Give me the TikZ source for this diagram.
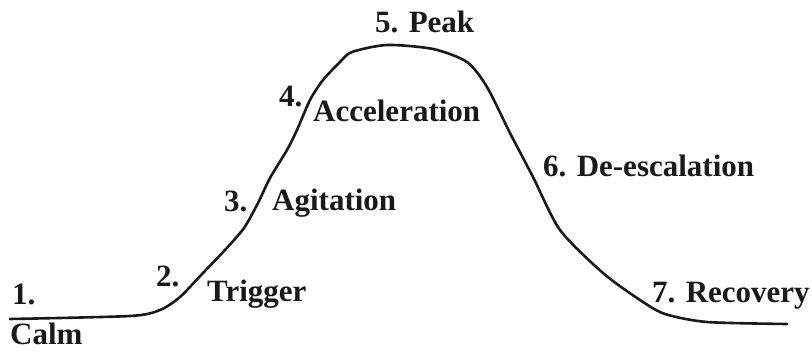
\documentclass[tikz,border=0pt]{standalone}
\usepackage{fontspec}
\setmainfont{Liberation Serif}
\begin{document}
\begin{tikzpicture}[x=1pt,y=-1pt,
  lbl/.style={anchor=base west,inner sep=0pt,font=\fontsize{31}{37}\selectfont\bfseries,text=black!90},
  curve/.style={line width=2.6pt,line cap=round,line join=round,black!90}]
\useasboundingbox[fill=white] (0,0) rectangle (812,352);
\draw[curve] plot[smooth,tension=0.45] coordinates {
 (10,319) (130,316) (160,310) (180,297) (203,273) (225,250) (244,228)
 (258,203) (270,178) (287,150) (297,130) (310,100) (323,80) (340,62)
 (352,52) (387,45) (433,49) (467,62) (487,87) (510,133) (533,177)
 (560,230) (603,273) (640,300) (665,314) (707,322) (787,324)};
\node[lbl] (n1) at (12,305) {1.};
\node[lbl] (calm) at (10,345) {Calm};
\node[lbl] (n2) at (156,287) {2.};
\node[lbl] (trig) at (207,302) {Trigger};
\node[lbl] (n3) at (224,212) {3.};
\node[lbl] (agit) at (272,211) {Agitation};
\node[lbl] (n4) at (279,107) {4.};
\node[lbl] (acc) at (313,122) {Acceleration};
\node[lbl] (peak) at (375,33) {5. Peak};
\node[lbl] (desc) at (543,177) {6. De-escalation};
\node[lbl] (rec) at (652,303) {7. Recovery};
\end{tikzpicture}
\end{document}
